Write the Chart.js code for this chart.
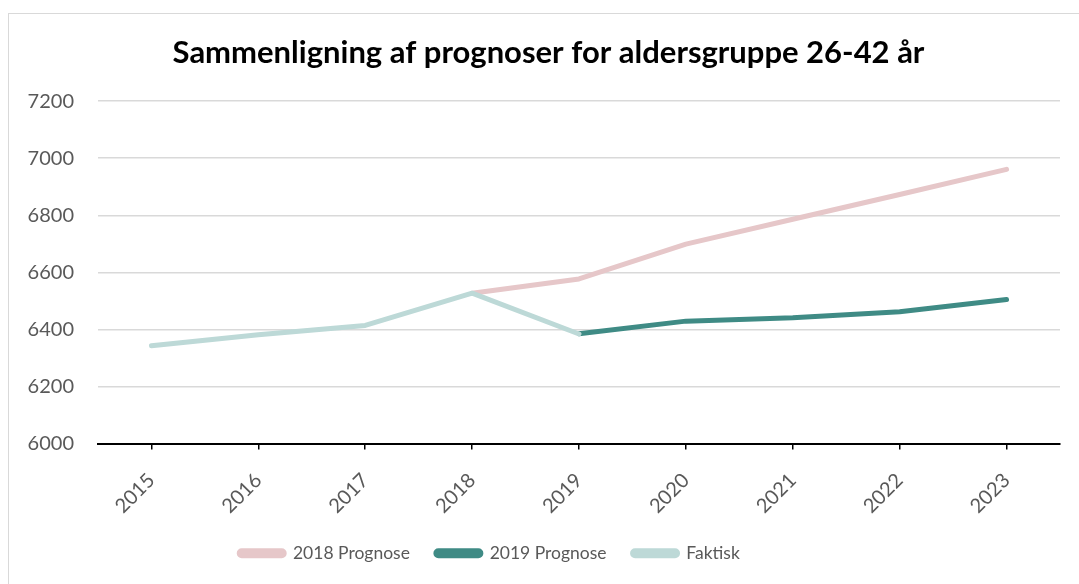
<!DOCTYPE html>
<html>
<head>
<meta charset="utf-8">
<script src="https://cdn.jsdelivr.net/npm/chart.js@4.4.1/dist/chart.umd.min.js"></script>
<style>
  html, body { margin: 0; padding: 0; background: #fff; }
  #wrap { position: relative; width: 1079px; height: 584px; overflow: hidden; }
  #frame { position: absolute; left: 8px; top: 13px; width: 1200px; height: 700px; border: 1.5px solid #d9d9d9; box-sizing: border-box; pointer-events: none; }
  canvas { position: absolute; left: 0; top: 0; }
</style>
</head>
<body>
<div id="wrap">
  <div id="frame"></div>
  <canvas id="c" width="1079" height="584"></canvas>
</div>
<script>
const years = ['2015','2016','2017','2018','2019','2020','2021','2022','2023'];
const prognose2018 = [null, null, null, 6527, 6577, 6699, 6786, 6873, 6961];
const prognose2019 = [null, null, null, null, 6385, 6429, 6441, 6462, 6505];
const faktisk = [6343, 6381, 6414, 6527, 6384, null, null, null, null];
const yTicks = [6000, 6200, 6400, 6600, 6800, 7000, 7200];

const tickFont = { family: 'Lato', size: 20 };
const legendFont = { family: 'Lato', size: 17.5 };

const boxShift = {
  id: 'boxShift',
  afterLayout(chart) {
    const lg = chart.legend;
    if (lg) { lg.left -= 50.5; lg.right -= 50.5; }
    const tb = chart.titleBlock;
    if (tb) { tb.left += 8.5; tb.right += 8.5; }
  }
};

new Chart(document.getElementById('c'), {
  type: 'line',
  data: {
    labels: years,
    datasets: [
      { label: '2018 Prognose', data: prognose2018, borderColor: '#e6c7c9', backgroundColor: '#e6c7c9', borderWidth: 5, pointRadius: 0, borderCapStyle: 'round', borderJoinStyle: 'round', tension: 0, order: 3 },
      { label: '2019 Prognose', data: prognose2019, borderColor: '#3f8b85', backgroundColor: '#3f8b85', borderWidth: 5, pointRadius: 0, borderCapStyle: 'round', borderJoinStyle: 'round', tension: 0, order: 2 },
      { label: 'Faktisk', data: faktisk, borderColor: '#bdd9d7', backgroundColor: '#bdd9d7', borderWidth: 5, pointRadius: 0, borderCapStyle: 'round', borderJoinStyle: 'round', tension: 0, order: 1 }
    ]
  },
  plugins: [boxShift],
  options: {
    responsive: false,
    animation: false,
    devicePixelRatio: 1,
    layout: { padding: { left: 20, right: 19, top: 34, bottom: 12 } },
    plugins: {
      title: {
        display: true,
        text: 'Sammenligning af prognoser for aldersgruppe 26-42 år',
        color: '#000',
        font: { family: 'Lato', size: 31, weight: 'bold', lineHeight: 1.2 },
        padding: { top: 0, bottom: 30 }
      },
      legend: {
        position: 'bottom',
        labels: {
          color: '#595959',
          font: legendFont,
          boxWidth: 45,
          boxHeight: 5,
          useBorderRadius: true,
          borderRadius: 2.5,
          padding: 26,
          sort: (a, b) => a.datasetIndex - b.datasetIndex
        }
      },
      tooltip: { enabled: false }
    },
    scales: {
      x: {
        offset: true,
        grid: { display: true, drawOnChartArea: false, drawTicks: true, tickLength: 6, color: '#000', offset: false, lineWidth: 1.5 },
        border: { display: true, color: '#000', width: 2 },
        ticks: { color: '#595959', font: tickFont, minRotation: 45, maxRotation: 45, padding: 19 },
        afterFit: (s) => { s.height = 75; }
      },
      y: {
        min: 6000, max: 7200,
        afterBuildTicks: (s) => { s.ticks = yTicks.map(v => ({ value: v })); },
        grid: { color: '#d9d9d9', lineWidth: 1.5, drawTicks: false },
        border: { display: false },
        ticks: { color: '#595959', font: tickFont, padding: 24, callback: (v) => String(v) },
        afterFit: (s) => { s.width = 78; }
      }
    }
  }
});
</script>
</body>
</html>
